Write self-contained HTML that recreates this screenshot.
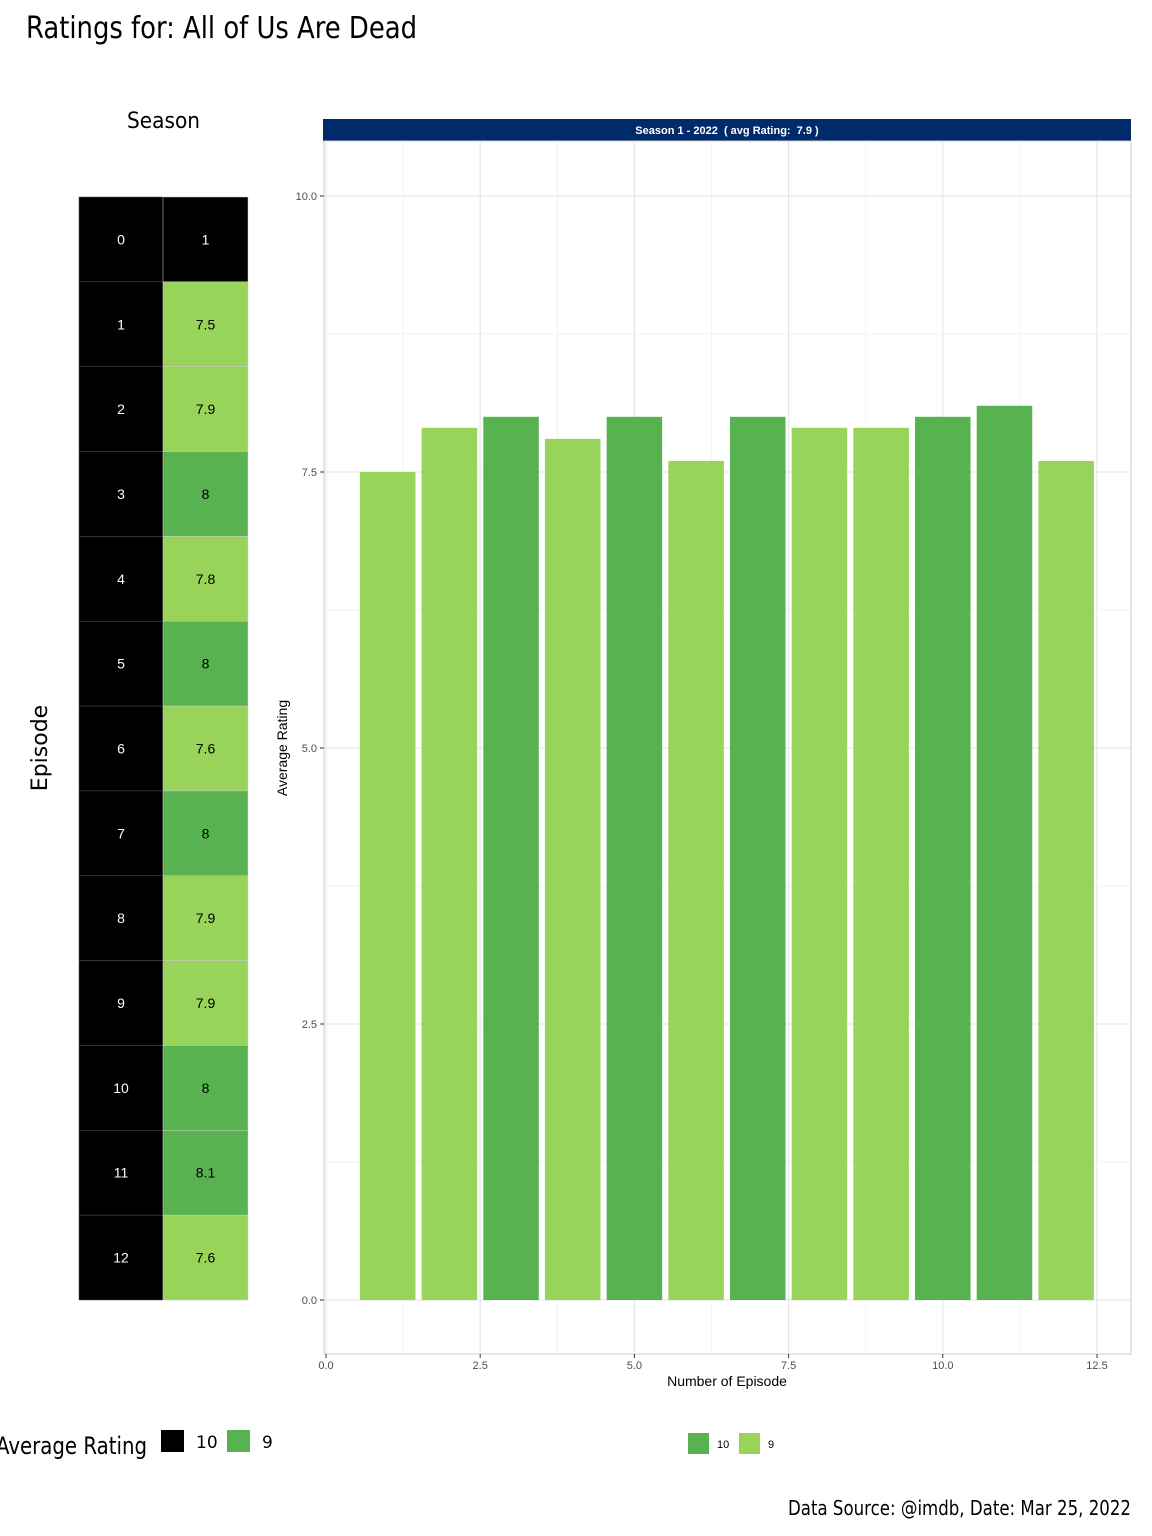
<!DOCTYPE html>
<html><head><meta charset="utf-8"><style>
body{margin:0;background:#fff;width:1152px;height:1536px;overflow:hidden}
svg{display:block}
</style></head><body>
<svg id="c" width="1152" height="1536" xmlns="http://www.w3.org/2000/svg">
<text x="26" y="38" font-size="30" textLength="391" lengthAdjust="spacingAndGlyphs" font-family="DejaVu Sans, sans-serif">Ratings for: All of Us Are Dead</text>
<text x="127" y="128" font-size="22" textLength="73" lengthAdjust="spacingAndGlyphs" font-family="DejaVu Sans, sans-serif">Season</text>
<text transform="translate(47,748) rotate(-90)" font-size="22" text-anchor="middle" font-family="DejaVu Sans, sans-serif">Episode</text>
<g id="heat"></g>
<g id="bars"></g>
<text x="-4" y="1454" font-size="24" textLength="151" lengthAdjust="spacingAndGlyphs" font-family="DejaVu Sans, sans-serif">Average Rating</text>
<rect x="161" y="1430" width="23" height="22" fill="#000"/>
<text x="196" y="1448" font-size="17" font-family="DejaVu Sans, sans-serif">10</text>
<rect x="227" y="1430" width="23" height="22" fill="#58b24f"/>
<text x="262" y="1448" font-size="17" font-family="DejaVu Sans, sans-serif">9</text>
<rect x="688" y="1433" width="21" height="21" fill="#58b24f"/>
<text x="717" y="1448" font-size="11" font-family="Liberation Sans, sans-serif">10</text>
<rect x="739" y="1433" width="21" height="21" fill="#98d35a"/>
<text x="768" y="1448" font-size="11" font-family="Liberation Sans, sans-serif">9</text>
<text x="788" y="1515" font-size="20" textLength="343" lengthAdjust="spacingAndGlyphs" font-family="DejaVu Sans, sans-serif">Data Source: @imdb, Date: Mar 25, 2022</text>
</svg>
<script>
const episodes=[0,1,2,3,4,5,6,7,8,9,10,11,12];
const ratings=[1,7.5,7.9,8,7.8,8,7.6,8,7.9,7.9,8,8.1,7.6];
const xTicks=[0,2.5,5,7.5,10,12.5];
const yTicks=[0,2.5,5,7.5,10];
const NS="http://www.w3.org/2000/svg";
function mk(p,t,a,txt){const e=document.createElementNS(NS,t);for(const k in a)e.setAttribute(k,a[k]);if(txt!==undefined)e.textContent=txt;p.appendChild(e);return e;}
function col(r){return r<5?"#000":(r>=8?"#58b24f":"#98d35a");}
const heat=document.getElementById('heat');
const h0=197,rh=(1300-197)/episodes.length;
episodes.forEach((ep,i)=>{
  const y=h0+i*rh;
  let r=mk(heat,'rect',{x:79,y:y,width:84,height:rh,fill:'#000',stroke:'#555','stroke-width':0.5});
  
  
  let t=mk(heat,'text',{x:121,y:y+rh/2+5,'font-size':14,'text-anchor':'middle',fill:'#fff','font-family':'Liberation Sans, sans-serif'},ep);
  
  
  let c=mk(heat,'rect',{x:163,y:y,width:85,height:rh,fill:col(ratings[i]),stroke:'#ccc','stroke-width':0.5});
  
  
  let v=mk(heat,'text',{x:205.5,y:y+rh/2+5,'font-size':14,'text-anchor':'middle',fill:ratings[i]<5?'#fff':'#000','font-family':'Liberation Sans, sans-serif'},ratings[i]);
  
  
});
const g=document.getElementById('bars');
const X=v=>326+v*61.68, Y=v=>1300-v*110.4;
const st=mk(g,'rect',{x:323,y:119,width:808,height:22,fill:'#002b6b'});

const stt=mk(g,'text',{x:727,y:134,'font-size':11,'font-weight':'bold',fill:'#fff','text-anchor':'middle','font-family':'Liberation Sans, sans-serif','xml:space':'preserve'},'Season 1 - 2022  ( avg Rating:  7.9 )');
stt.style.whiteSpace='pre';

const pb=mk(g,'rect',{x:324,y:141,width:807,height:1213,fill:'#fff',stroke:'#ccc','stroke-width':1});

for(let v=1.25;v<12.6;v+=2.5){mk(g,'line',{x1:X(v),x2:X(v),y1:141,y2:1354,stroke:'#efefef','stroke-width':0.7});}
for(let v=1.25;v<10;v+=2.5){mk(g,'line',{x1:324,x2:1131,y1:Y(v),y2:Y(v),stroke:'#efefef','stroke-width':0.7});}
xTicks.forEach(v=>{mk(g,'line',{x1:X(v),x2:X(v),y1:141,y2:1354,stroke:'#e3e3e3','stroke-width':1});
  mk(g,'line',{x1:X(v),x2:X(v),y1:1354,y2:1358,stroke:'#333'});
  let t=mk(g,'text',{x:X(v),y:1369,'font-size':11,'text-anchor':'middle',fill:'#4d4d4d','font-family':'Liberation Sans, sans-serif'},v.toFixed(1));
  });
yTicks.forEach(v=>{mk(g,'line',{x1:324,x2:1131,y1:Y(v),y2:Y(v),stroke:'#e3e3e3','stroke-width':1});
  mk(g,'line',{x1:320,x2:324,y1:Y(v),y2:Y(v),stroke:'#333'});
  let t=mk(g,'text',{x:317,y:Y(v)+4,'font-size':11,'text-anchor':'end',fill:'#4d4d4d','font-family':'Liberation Sans, sans-serif'},v.toFixed(1));
  });
episodes.forEach((ep,i)=>{if(ep===0)return;
  const b=mk(g,'rect',{x:X(ep-0.45),y:Y(ratings[i]),width:X(0.9)-X(0),height:Y(0)-Y(ratings[i]),fill:ratings[i]>=8?'#58b24f':'#98d35a'});
  
  });
const xt=mk(g,'text',{x:727,y:1386,'font-size':14,'text-anchor':'middle','font-family':'Liberation Sans, sans-serif'},'Number of Episode');

const yt=mk(g,'text',{transform:'translate(287,748) rotate(-90)','font-size':14,'text-anchor':'middle','font-family':'Liberation Sans, sans-serif'},'Average Rating');

</script>
</body></html>
